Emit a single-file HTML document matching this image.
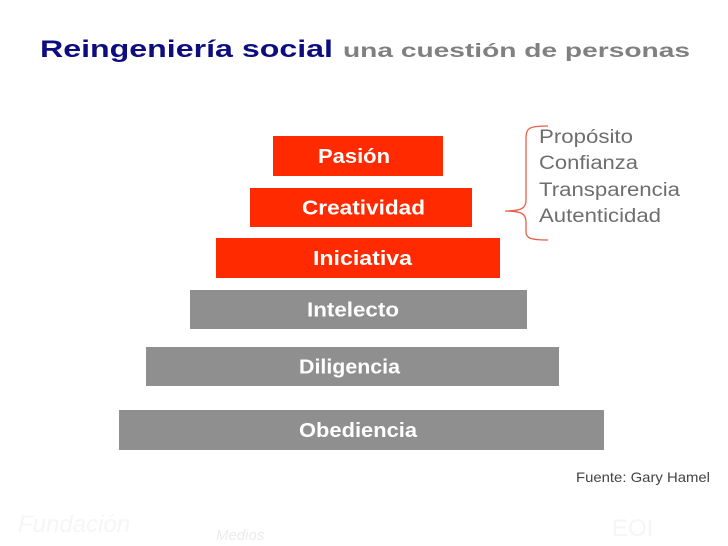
<!DOCTYPE html>
<html><head><meta charset="utf-8">
<style>
html,body{margin:0;padding:0;background:#fff;}
svg{display:block;font-family:"Liberation Sans",sans-serif;}
</style></head>
<body>
<svg id="chart" width="728" height="546" viewBox="0 0 728 546">
  <text x="40" y="57" font-size="24" font-weight="bold" fill="#0d0d80" textLength="293" lengthAdjust="spacingAndGlyphs">Reingeniería social</text>
  <text x="343" y="57" font-size="19" font-weight="bold" fill="#808080" textLength="347" lengthAdjust="spacingAndGlyphs">una cuestión de personas</text>
  <g id="bars"></g>
  <path d="M548,126 C528,126 526,128 526,140 L526,200 C526,208 522,211 505,211 C522,211 526,214 526,222 L526,232 C526,238 530,240 548,240" fill="none" stroke="#e8604a" stroke-width="1.3"/>
  <g font-size="19" fill="#6e6e6e">
    <text x="539" y="143" textLength="94" lengthAdjust="spacingAndGlyphs">Propósito</text>
    <text x="539" y="169" textLength="99" lengthAdjust="spacingAndGlyphs">Confianza</text>
    <text x="539" y="196" textLength="141" lengthAdjust="spacingAndGlyphs">Transparencia</text>
    <text x="539" y="222" textLength="122" lengthAdjust="spacingAndGlyphs">Autenticidad</text>
  </g>
  <text x="576" y="482" font-size="14" fill="#444" textLength="134" lengthAdjust="spacingAndGlyphs">Fuente: Gary Hamel</text>
  <text x="18" y="532" font-size="24" fill="#f6f6f6" font-style="italic">Fundación</text>
  <text x="216" y="540" font-size="15" fill="#ececec" font-style="italic">Medios</text>
  <text x="612" y="536" font-size="24" fill="#f6f6f6">EOI</text>
</svg>
<script>
const labels = ["Pasión","Creatividad","Iniciativa","Intelecto","Diligencia","Obediencia"];
const leftEdges = [273,250,216,190,146,119];
const rightEdges = [443,472,500,527,559,604];
const topEdges = [136,188,238,290,347,410];
const bottomEdges = [176,227,278,329,386,450];
const levelTypes = ["red","red","red","gray","gray","gray"];
const textStarts = [318,302,313,307,299,299];
const textEnds = [390,425,412,399,400,417];
const colors = {red:"#ff2a00", gray:"#8f8f8f"};
const NS = "http://www.w3.org/2000/svg";
const g = document.getElementById("bars");
labels.forEach((lab,i)=>{
  const r = document.createElementNS(NS,"rect");
  
  
  r.setAttribute("x", leftEdges[i]);
  r.setAttribute("y", topEdges[i]);
  r.setAttribute("width", rightEdges[i]-leftEdges[i]);
  r.setAttribute("height", bottomEdges[i]-topEdges[i]);
  r.setAttribute("fill", colors[levelTypes[i]]);
  g.appendChild(r);
  const t = document.createElementNS(NS,"text");
  
  
  t.setAttribute("x", textStarts[i]);
  t.setAttribute("y", (topEdges[i]+bottomEdges[i])/2 + 7);
  t.setAttribute("font-size", "20");
  t.setAttribute("font-weight", "bold");
  t.setAttribute("fill", "#fff");
  t.setAttribute("textLength", textEnds[i]-textStarts[i]);
  t.setAttribute("lengthAdjust", "spacingAndGlyphs");
  t.textContent = lab;
  g.appendChild(t);
});
</script>
</body></html>
